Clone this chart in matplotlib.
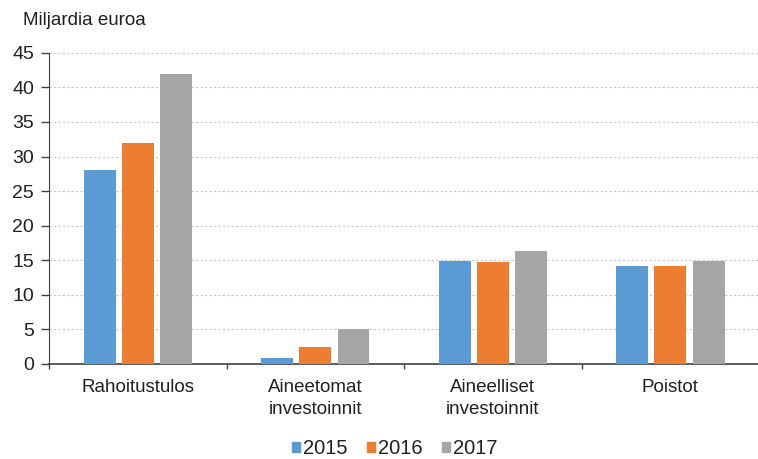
import numpy as np
import matplotlib.pyplot as plt
from matplotlib.patches import Patch

plt.rcParams['font.family'] = ['Liberation Sans', 'DejaVu Sans']

# data
categories = ['Rahoitustulos', 'Aineetomat\ninvestoinnit', 'Aineelliset\ninvestoinnit', 'Poistot']
years = ['2015', '2016', '2017']
v2015 = [28.1, 0.9, 14.9, 14.2]
v2016 = [32.0, 2.5, 14.7, 14.2]
v2017 = [42.0, 5.0, 16.3, 14.9]
colors = ['#5B9BD5', '#ED7D31', '#A5A5A5']

fig = plt.figure(figsize=(7.58, 4.59), dpi=100)
ax = fig.add_axes([0.0646, 0.207, 0.937, 0.678])

x = np.arange(len(categories))
step = 0.215
for i, (vals, c) in enumerate(zip([v2015, v2016, v2017], colors)):
    ax.bar(x + (i - 1) * step, vals, width=0.18, color=c, zorder=3)

ax.set_xlim(-0.5, 3.5)
ax.set_ylim(0, 45)
ax.set_yticks(range(0, 46, 5))
ax.yaxis.grid(True, linestyle=(0, (2, 2)), color='#c8c8c8', linewidth=0.8, zorder=0)

# category boundaries as ticks
ax.set_xticks(np.arange(-0.5, 4.0, 1.0))
ax.set_xticklabels([])
ax.set_xticks(x, minor=True)
ax.set_xticklabels(categories, minor=True, fontsize=13.5, linespacing=1.4, color='#202020')
ax.tick_params(axis='x', which='minor', length=0, pad=11)
ax.tick_params(axis='x', which='major', length=3.6, width=1, color='#404040')
ax.tick_params(axis='y', length=5.8, width=1, color='#404040', labelsize=14,
               pad=5, labelcolor='#202020')

for s in ['top', 'right']:
    ax.spines[s].set_visible(False)
ax.spines['left'].set_color('#404040')
ax.spines['bottom'].set_color('#404040')
ax.spines['bottom'].set_linewidth(1.2)

fig.text(0.030, 0.956, 'Miljardia euroa', fontsize=13.5, va='center', ha='left',
         color='#202020')

handles = [Patch(color=c, label=y) for c, y in zip(colors, years)]
fig.legend(handles=handles, loc='center', bbox_to_anchor=(0.521, 0.022), ncol=3,
           frameon=False, fontsize=14.5, handlelength=0.4, handleheight=0.4,
           handletextpad=0.15, columnspacing=0.95, labelcolor='#202020')

fig.savefig('out.png', dpi=100)
